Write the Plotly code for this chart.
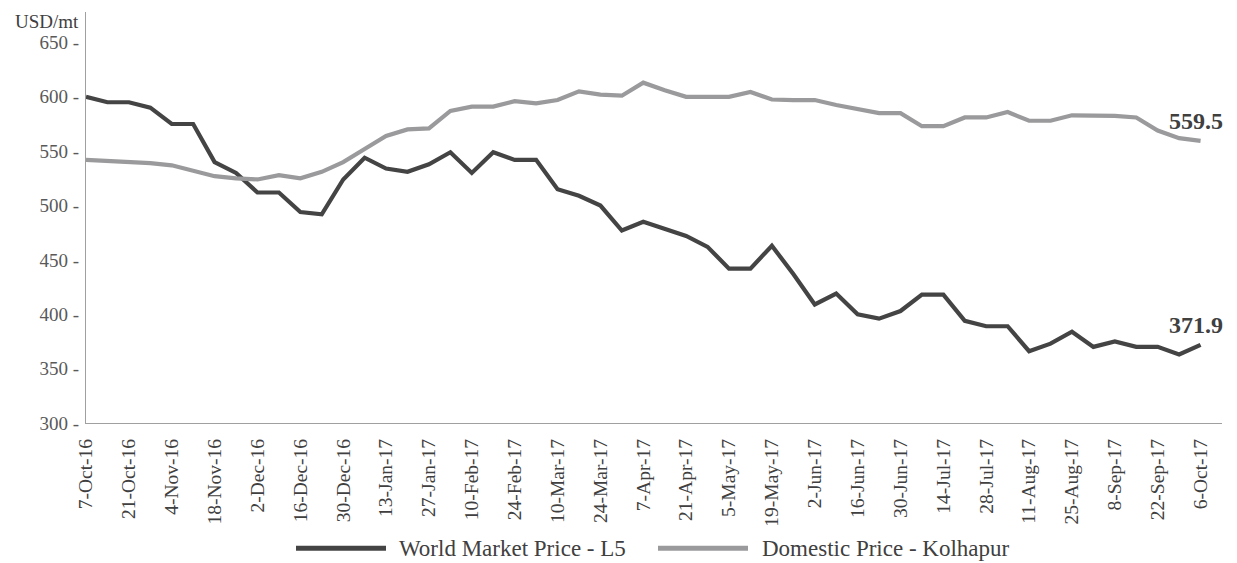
import plotly.graph_objects as go

weeks = ["7-Oct-16","14-Oct-16","21-Oct-16","28-Oct-16","4-Nov-16","11-Nov-16","18-Nov-16","25-Nov-16",
         "2-Dec-16","9-Dec-16","16-Dec-16","23-Dec-16","30-Dec-16","6-Jan-17","13-Jan-17","20-Jan-17",
         "27-Jan-17","3-Feb-17","10-Feb-17","17-Feb-17","24-Feb-17","3-Mar-17","10-Mar-17","17-Mar-17",
         "24-Mar-17","31-Mar-17","7-Apr-17","14-Apr-17","21-Apr-17","28-Apr-17","5-May-17","12-May-17",
         "19-May-17","26-May-17","2-Jun-17","9-Jun-17","16-Jun-17","23-Jun-17","30-Jun-17","7-Jul-17",
         "14-Jul-17","21-Jul-17","28-Jul-17","4-Aug-17","11-Aug-17","18-Aug-17","25-Aug-17","1-Sep-17",
         "8-Sep-17","15-Sep-17","22-Sep-17","29-Sep-17","6-Oct-17"]

world_l5 = [600, 595, 595, 590, 575, 575, 540, 530, 512, 512, 494, 492, 524, 544, 534, 531,
            538, 549, 530, 549, 542, 542, 515, 509, 500, 477, 485, 478, 472, 462, 442, 442,
            463, 437, 409, 419, 400, 396, 403, 418, 418, 394, 389, 389, 366, 373, 384, 370,
            375, 370, 370, 363, 371.9]

domestic_kolhapur = [542, 541, 540, 539, 537, 532, 527, 525, 524, 528, 525, 531, 540, 552, 564, 570,
                     571, 587, 591, 591, 596, 594, 597, 605, 602, 601, 613, 606, 600, 600, 600, 604.5,
                     597.5, 597, 597, 592.5, 588.5, 585, 585, 573, 573, 581, 581, 586, 578, 578, 583, 582.5,
                     582.5, 581, 569, 562, 559.5]

series_names = ["World Market Price - L5", "Domestic Price - Kolhapur"]
y_ticks = [300, 350, 400, 450, 500, 550, 600, 650]
y_unit = "USD/mt"

x_idx = list(range(len(weeks)))
tick_idx = x_idx[::2]
tick_txt = weeks[::2]

FONT = "Liberation Serif"
DARK = "#444444"
GREY = "#9a9a9c"
colors = [DARK, GREY]

fig = go.Figure()
for name, vals, col in zip(series_names, [world_l5, domestic_kolhapur], colors):
    fig.add_trace(go.Scatter(x=x_idx, y=vals, mode="lines", name=name,
                             line=dict(color=col, width=4.2), showlegend=False))

for vals in [world_l5, domestic_kolhapur]:
    fig.add_annotation(x=x_idx[-1], y=vals[-1], text="<b>%s</b>" % vals[-1], showarrow=False,
                       xanchor="center", yanchor="bottom", yshift=5, xshift=-5,
                       font=dict(family=FONT, size=24, color="#404040"))

fig.add_annotation(xref="paper", x=0, yref="paper", y=1.008, text=y_unit, showarrow=False,
                   xanchor="right", yanchor="top", xshift=-5,
                   font=dict(family=FONT, size=19, color="#404040"))

# manual legend (long line samples as in the reference); positions in page pixels
PW = 1136.0
def px(p):
    return (p - 86) / PW
leg_y = -0.305
legend_layout = [(296, 386, 397), (658, 748, 760)]
for (x0, x1, xt), name, col in zip(legend_layout, series_names, colors):
    fig.add_shape(type="line", xref="paper", yref="paper", x0=px(x0), x1=px(x1), y0=leg_y, y1=leg_y,
                  line=dict(color=col, width=5))
    fig.add_annotation(xref="paper", yref="paper", x=px(xt), y=leg_y, text=name, showarrow=False,
                       xanchor="left", yanchor="middle",
                       font=dict(family=FONT, size=23, color="#404040"))

# the page body has an 8px margin, so the figure is made 8px smaller on each side
fig.update_layout(
    width=1229, height=555,
    margin=dict(l=78, r=15, t=4, b=140),
    paper_bgcolor="white", plot_bgcolor="white",
    font=dict(family=FONT, size=19, color="#404040"),
    showlegend=False,
)
fig.update_xaxes(range=[0, 53], tickmode="array", tickvals=tick_idx, ticktext=tick_txt,
                 tickangle=-90, showgrid=False, zeroline=False, showline=True,
                 linecolor="#a0a0a0", linewidth=1.3, ticks="", automargin=False,
                 ticklabelstandoff=7,
                 tickfont=dict(family=FONT, size=19.5, color="#404040"))
fig.update_yaxes(range=[300, 678], tickmode="array", tickvals=y_ticks,
                 ticktext=["%d -" % v for v in y_ticks],
                 showgrid=False, zeroline=False, showline=True, automargin=False,
                 linecolor="#a0a0a0", linewidth=1.3, ticks="", ticklabelstandoff=2,
                 tickfont=dict(family=FONT, size=19, color="#595959"))

fig.write_html("out.html")
